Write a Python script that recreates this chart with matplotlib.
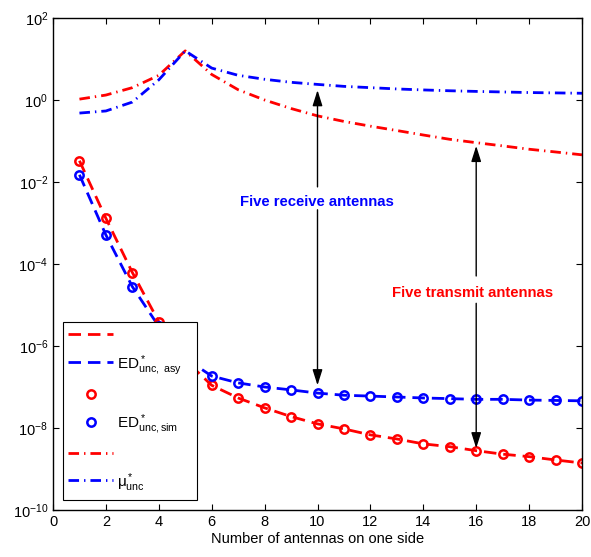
import matplotlib
matplotlib.use("Agg")
import matplotlib.pyplot as plt
import numpy as np
from matplotlib.ticker import FixedLocator, NullLocator, LogFormatterSciNotation

plt.rcParams["font.family"] = ["Liberation Sans", "DejaVu Sans"]
plt.rcParams["mathtext.fontset"] = "custom"
plt.rcParams["mathtext.rm"] = "Liberation Sans"
plt.rcParams["mathtext.it"] = "Liberation Sans:italic"
plt.rcParams["mathtext.bf"] = "Liberation Sans:bold"
plt.rcParams["mathtext.default"] = "regular"

# ── data ─────────────────────────────────────────────────────────────────────
n_ant = np.arange(1, 21)

# ED*_unc (asymptotic curve and simulated circles coincide)
ed_tx = [3.3e-2, 1.3e-3, 6.2e-5, 3.9e-6, 4.5e-7, 1.1e-7, 5.4e-8, 3.1e-8, 1.9e-8, 1.26e-8,
         9.5e-9, 6.8e-9, 5.4e-9, 4.1e-9, 3.5e-9, 2.8e-9, 2.3e-9, 2.0e-9, 1.66e-9, 1.4e-9]
ed_rx = [1.5e-2, 5.1e-4, 2.8e-5, 3.0e-6, 5.0e-7, 1.85e-7, 1.26e-7, 1.0e-7, 8.5e-8, 7.1e-8,
         6.3e-8, 6.0e-8, 5.7e-8, 5.4e-8, 5.2e-8, 5.0e-8, 5.0e-8, 4.8e-8, 4.7e-8, 4.6e-8]

# mu*_unc
mu_tx = [1.05, 1.32, 2.0, 4.0, 15.8, 4.2, 1.78, 1.0, 0.62, 0.41,
         0.30, 0.23, 0.18, 0.14, 0.11, 0.091, 0.076, 0.063, 0.054, 0.046]
mu_rx = [0.48, 0.54, 0.89, 3.1, 15.8, 6.0, 4.0, 3.2, 2.7, 2.4,
         2.15, 2.0, 1.86, 1.76, 1.68, 1.62, 1.57, 1.52, 1.49, 1.46]

legend_labels = ["", r"ED$^*_{unc,\ asy}$", "", r"ED$^*_{unc,sim}$", "", r"μ$^*_{unc}$"]

W, H = 591, 557
fig = plt.figure(figsize=(W / 100, H / 100), dpi=100)
ax = fig.add_axes([53 / W, 1 - 510 / H, (582 - 53) / W, (510 - 18) / H])

dashed = (0, (4.5, 2.5))
dashdot = (0, (3.8, 1.8, 0.5, 1.8))

h1, = ax.semilogy(n_ant, ed_tx, color="r", ls=dashed, lw=2)
h2, = ax.semilogy(n_ant, ed_rx, color="b", ls=dashed, lw=2)
h3, = ax.semilogy(n_ant, ed_tx, "o", color="r", mfc="none", ms=6, mew=1.8)
h4, = ax.semilogy(n_ant, ed_rx, "o", color="b", mfc="none", ms=6, mew=1.8)
h5, = ax.semilogy(n_ant, mu_tx, color="r", ls=dashdot, lw=2)
h6, = ax.semilogy(n_ant, mu_rx, color="b", ls=dashdot, lw=2)

# ── annotations ──────────────────────────────────────────────────────────────
arrow = dict(arrowstyle="-|>,head_length=0.95,head_width=0.3", color="k", lw=1,
             shrinkA=0, shrinkB=0, mutation_scale=10)
ax.annotate("", xy=(10, 1.74), xytext=(10, 7.6e-3), arrowprops=arrow)
ax.annotate("", xy=(10, 1.1e-7), xytext=(10, 2.1e-3), arrowprops=arrow)
ax.text(9.98, 3.2e-3, "Five receive antennas", color="b", fontweight="bold",
        fontsize=10.7, ha="center", va="center")

ax.annotate("", xy=(16, 0.076), xytext=(16, 5.1e-5), arrowprops=arrow)
ax.annotate("", xy=(16, 3.2e-9), xytext=(16, 1.1e-5), arrowprops=arrow)
ax.text(15.87, 2.0e-5, "Five transmit antennas", color="r", fontweight="bold",
        fontsize=10.7, ha="center", va="center")

# ── axes ─────────────────────────────────────────────────────────────────────
ax.set_xlim(0, 20)
ax.set_ylim(1e-10, 1e2)
ax.set_xticks(np.arange(0, 21, 2))
ax.yaxis.set_major_locator(FixedLocator([10.0 ** k for k in range(-10, 3, 2)]))
ax.yaxis.set_major_formatter(LogFormatterSciNotation())
ax.yaxis.set_minor_locator(NullLocator())
ax.tick_params(direction="in", top=True, right=True, length=4.5, width=0.8,
               labelsize=10.5)
for s in ax.spines.values():
    s.set_linewidth(1.0)
ax.set_xlabel("Number of antennas on one side", fontsize=10.5, labelpad=2)

ax.legend([h1, h2, h3, h4, h5, h6], legend_labels, loc="upper left",
          bbox_to_anchor=(63 / W, 1 - 500 / H, 134 / W, 178 / H),
          bbox_transform=fig.transFigure, mode="expand", borderaxespad=0,
          fancybox=False, edgecolor="k", framealpha=1, fontsize=11,
          handlelength=2.9, handletextpad=0.3, handleheight=1.4,
          labelspacing=0.56, borderpad=0.35)
ax.get_legend().get_frame().set_linewidth(0.8)

fig.savefig("out.png", dpi=100)
